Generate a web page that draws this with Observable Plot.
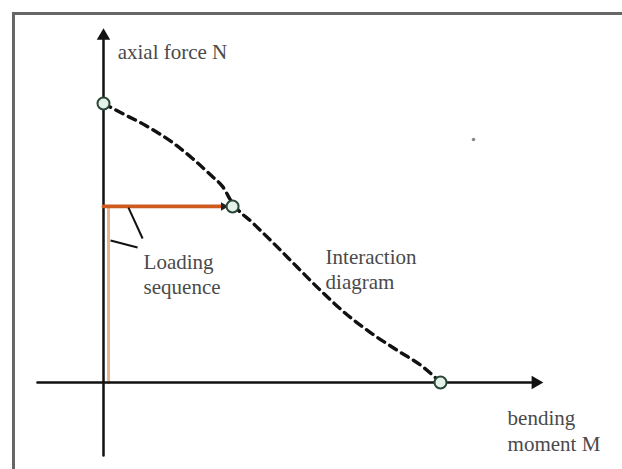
<!DOCTYPE html>
<html>
<head>
<meta charset="utf-8">
<script src="https://cdn.jsdelivr.net/npm/d3@7"></script>
<script src="https://cdn.jsdelivr.net/npm/@observablehq/plot@0.6"></script>
<style>
  body { margin: 0; background: #fff; }
  #wrap { position: relative; width: 622px; height: 469px; overflow: hidden; }
  #frame { position: absolute; left: 12px; top: 12px; width: 620px; height: 470px;
           border-top: 3px solid #666; border-left: 3px solid #666; box-sizing: border-box; }
  #chart { position: absolute; left: 0; top: 0; }
</style>
</head>
<body>
<div id="wrap"><div id="frame"></div><div id="chart"></div></div>
<script>
// Interaction diagram (normalized: M = bending moment, N = axial force)
const curveM = [0, 0.045, 0.125, 0.205, 0.264, 0.323, 0.353, 0.383, 0.442, 0.508, 0.576, 0.644, 0.712, 0.792, 0.872, 0.950, 1];
const curveN = [1, 0.971, 0.921, 0.860, 0.803, 0.738, 0.703, 0.642, 0.573, 0.495, 0.412, 0.330, 0.254, 0.179, 0.115, 0.054, 0];

// marked points on the diagram
const pointM = [0, 0.383, 1];
const pointN = [1, 0.631, 0];

// loading sequence path (vertical then horizontal)
const loadVertM = [0.015, 0.015];
const loadVertN = [0, 0.631];
const loadHorM = [0.0, 0.358];
const loadHorN = [0.631, 0.631];

// axes extents
const axisXM = [-0.196, 1.27];
const axisYN = [-0.262, 1.25];

// leader lines for "Loading sequence"
const leaders = [
  {m1: 0.074, n1: 0.627, m2: 0.116, n2: 0.516},
  {m1: 0.021, n1: 0.509, m2: 0.101, n2: 0.484}
];

// labels
const labelText = ["axial force N", "Loading\nsequence", "Interaction\ndiagram", "bending\nmoment M"];
const labelM = [0.042, 0.119, 0.659, 1.199];
const labelN = [1.19, 0.391, 0.410, -0.170];

const curve = curveM.map((m, i) => ({m, n: curveN[i]}));
const points = pointM.map((m, i) => ({m, n: pointN[i]}));
const labels = labelText.map((t, i) => ({t, m: labelM[i], n: labelN[i]}));

const plot = Plot.plot({
  width: 622,
  height: 469,
  margin: 0,
  style: {background: "transparent", overflow: "visible"},
  x: {domain: [0, 1], range: [103, 440], axis: null},
  y: {domain: [0, 1], range: [382, 103], axis: null},
  marks: [
    // loading vertical (light)
    Plot.line(loadVertM.map((m, i) => ({m, n: loadVertN[i]})), {x: "m", y: "n", stroke: "#e2b795", strokeWidth: 3}),
    // axes
    Plot.line(axisXM.map(m => ({m, n: 0})), {x: "m", y: "n", stroke: "#111", strokeWidth: 2.5}),
    Plot.line(axisYN.map(n => ({m: 0, n})), {x: "m", y: "n", stroke: "#111", strokeWidth: 2.5}),
    Plot.dot([{m: 0, n: 1.242}], {x: "m", y: "n", symbol: "triangle", r: 5, fill: "#111", stroke: "none"}),
    Plot.dot([{m: 1.282, n: 0}], {x: "m", y: "n", symbol: "triangle", r: 5, rotate: 90, fill: "#111", stroke: "none"}),
    // loading horizontal
    Plot.line(loadHorM.map((m, i) => ({m, n: loadHorN[i]})), {x: "m", y: "n", stroke: "#cf5a1e", strokeWidth: 3.8}),
    Plot.dot([{m: 0.356, n: 0.631}], {x: "m", y: "n", symbol: "triangle", r: 3.2, rotate: 90, fill: "#222", stroke: "none"}),
    // leader lines
    Plot.link(leaders, {x1: "m1", y1: "n1", x2: "m2", y2: "n2", stroke: "#111", strokeWidth: 2}),
    // interaction curve
    Plot.line(curve, {x: "m", y: "n", curve: "monotone-x", stroke: "#111", strokeWidth: 3.4, strokeDasharray: "8,6"}),
    // points
    Plot.dot(points, {x: "m", y: "n", r: 6, fill: "#e4f2ea", stroke: "#2a4638", strokeWidth: 2}),
    // small speck
    Plot.dot([{m: 1.098, n: 0.871}], {x: "m", y: "n", r: 1.8, fill: "#888"}),
    // labels
    Plot.text(labels, {x: "m", y: "n", text: "t", textAnchor: "start", lineAnchor: "middle", lineHeight: 1.2,
      fontFamily: "Liberation Serif", fontSize: 21, fill: "#4a4a4a"})
  ]
});
document.getElementById("chart").appendChild(plot);
</script>
</body>
</html>
